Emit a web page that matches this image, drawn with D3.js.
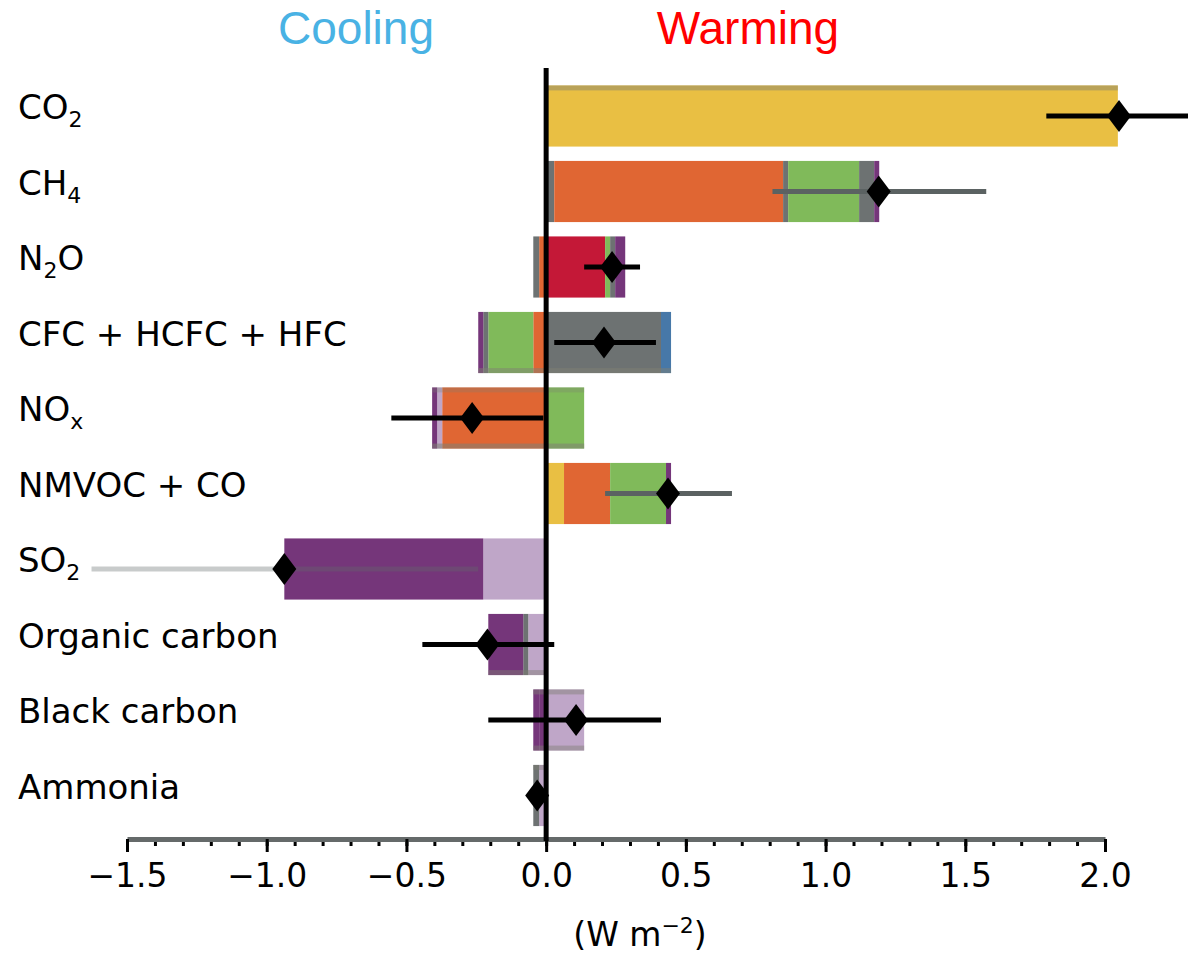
<!DOCTYPE html>
<html>
<head>
<meta charset="utf-8">
<script src="https://cdn.jsdelivr.net/npm/d3@7"></script>
<style>
  body { margin: 0; background: #fff; }
  svg { display: block; }
</style>
</head>
<body>
<div id="vis"></div>
<script>
// frame
const FRAME_WIDTH = 1188;
const FRAME_HEIGHT = 953;

// rows, top to bottom ("_" marks the next char as subscript)
const categories = ["CO_2", "CH_4", "N_2O", "CFC + HCFC + HFC", "NO_x",
                    "NMVOC + CO", "SO_2", "Organic carbon", "Black carbon", "Ammonia"];

// forcing components and their colours
const components = ["CO2", "CH4", "N2O", "Halocarbons", "O3", "H2O strat", "Aerosol-cloud", "Aerosol-radiation"];
const componentColors = ["#e9bf43", "#80ba5a", "#c41837", "#6d7272", "#e06633", "#4778a8", "#75367a", "#bfa6c8"];

// stacked pieces going right from zero, [component, size] (W m-2)
const positiveParts = [
  [["CO2", 2.046]],
  [["Halocarbons", 0.029], ["O3", 0.819], ["Halocarbons", 0.018], ["CH4", 0.254], ["Halocarbons", 0.054], ["Aerosol-cloud", 0.018]],
  [["N2O", 0.211], ["CH4", 0.018], ["Halocarbons", 0.018], ["Aerosol-cloud", 0.036]],
  [["Halocarbons", 0.411], ["H2O strat", 0.036]],
  [["CH4", 0.136]],
  [["CO2", 0.064], ["O3", 0.165], ["CH4", 0.200], ["Aerosol-cloud", 0.018]],
  [],
  [],
  [["Aerosol-radiation", 0.136]],
  []
];

// stacked pieces going left from zero, [component, size]
const negativeParts = [
  [],
  [],
  [["O3", 0.025], ["Halocarbons", 0.021]],
  [["O3", 0.046], ["CH4", 0.161], ["Halocarbons", 0.018], ["Aerosol-cloud", 0.018]],
  [["O3", 0.372], ["Aerosol-radiation", 0.018], ["Aerosol-cloud", 0.018]],
  [],
  [["Aerosol-radiation", 0.225], ["Aerosol-cloud", 0.712]],
  [["Aerosol-radiation", 0.064], ["Halocarbons", 0.018], ["Aerosol-cloud", 0.125]],
  [["Aerosol-cloud", 0.025], ["Aerosol-cloud", 0.021]],
  [["Aerosol-radiation", 0.025], ["Halocarbons", 0.021]]
];

// net effect (diamond) and its range (whisker)
const netValues = [2.05, 1.19, 0.236, 0.207, -0.265, 0.436, -0.937, -0.21, 0.107, -0.032];
const rangeLow  = [1.79, 0.81, 0.136, 0.029, -0.554, 0.211, -1.627, -0.443, -0.207, -0.04];
const rangeHigh = [2.32, 1.575, 0.336, 0.393, -0.01, 0.665, -0.243, 0.029, 0.411, -0.025];

// axis ticks
const majorTicks = [-1.5, -1.0, -0.5, 0.0, 0.5, 1.0, 1.5, 2.0];
const minorTicks = d3.range(-15, 21).map((d) => d / 10);

// whisker look per row
const whiskerColor = ["#000", "#5b6262", "#000", "#000", "#000", "#5b6262", "#61696a", "#000", "#000", "#000"];
const whiskerOpacity = [1, 1, 1, 1, 1, 1, 0.35, 1, 1, 0];

// thin grey edges along some bars [top, bottom] opacity
const edgeOpacity = [[0.45, 0], [0, 0], [0, 0], [0, 0.5], [0.3, 0.55], [0, 0], [0, 0], [0, 0.45], [0.45, 0.45], [0.45, 0]];

const colorOf = d3.scaleOrdinal().domain(components).range(componentColors);

const FRAME = d3.select("#vis")
                .append("svg")
                  .attr("width", FRAME_WIDTH)
                  .attr("height", FRAME_HEIGHT);

const X_SCALE = d3.scaleLinear()
                  .domain([-1.5, 2.0])
                  .range([127, 1105]);

const Y_SCALE = d3.scaleBand()
                  .domain(categories)
                  .range([78.25, 833.25])
                  .paddingInner(0.19)
                  .paddingOuter(0.095);

// flatten stacked pieces into rectangles
const pieces = [];
categories.forEach((cat, i) => {
  let acc = 0;
  positiveParts[i].forEach(([comp, v]) => {
    pieces.push({cat: cat, comp: comp, x0: acc, x1: acc + v});
    acc += v;
  });
  acc = 0;
  negativeParts[i].forEach(([comp, v]) => {
    pieces.push({cat: cat, comp: comp, x0: acc - v, x1: acc});
    acc -= v;
  });
});

FRAME.append("g")
  .selectAll("rect")
  .data(pieces)
  .enter()
  .append("rect")
    .attr("x", (d) => X_SCALE(d.x0))
    .attr("width", (d) => X_SCALE(d.x1) - X_SCALE(d.x0))
    .attr("y", (d) => Y_SCALE(d.cat))
    .attr("height", Y_SCALE.bandwidth())
    .attr("fill", (d) => colorOf(d.comp));

// grey edge strips
const edges = [];
categories.forEach((cat, i) => {
  const lo = -d3.sum(negativeParts[i], (p) => p[1]);
  const hi = d3.sum(positiveParts[i], (p) => p[1]);
  if (edgeOpacity[i][0] > 0) edges.push({cat: cat, lo: lo, hi: hi, top: true, op: edgeOpacity[i][0]});
  if (edgeOpacity[i][1] > 0) edges.push({cat: cat, lo: lo, hi: hi, top: false, op: edgeOpacity[i][1]});
});

FRAME.append("g")
  .selectAll("rect")
  .data(edges)
  .enter()
  .append("rect")
    .attr("x", (d) => X_SCALE(d.lo))
    .attr("width", (d) => X_SCALE(d.hi) - X_SCALE(d.lo))
    .attr("y", (d) => d.top ? Y_SCALE(d.cat) : Y_SCALE(d.cat) + Y_SCALE.bandwidth() - 5)
    .attr("height", 5)
    .attr("fill", "#7f7f74")
    .attr("opacity", (d) => d.op);

// x axis: minor ticks, then major ticks with labels
const axisY = 839;

FRAME.append("g")
  .attr("transform", "translate(0," + axisY + ")")
  .call(d3.axisBottom(X_SCALE).tickValues(minorTicks).tickSize(7).tickFormat(""))
  .call((g) => g.select(".domain").remove())
  .call((g) => g.selectAll(".tick line").attr("stroke", "#000").attr("stroke-width", 3));

FRAME.append("g")
  .attr("transform", "translate(0," + axisY + ")")
  .call(d3.axisBottom(X_SCALE).tickValues(majorTicks).tickSize(13).tickSizeOuter(0).tickPadding(12)
          .tickFormat(d3.format(".1f")))
  .call((g) => g.select(".domain").attr("stroke", "#656a6a").attr("stroke-width", 5))
  .call((g) => g.selectAll(".tick line").attr("stroke", "#000").attr("stroke-width", 3))
  .call((g) => g.selectAll(".tick text")
                .attr("font-family", "DejaVu Sans")
                .attr("font-size", 33)
                .attr("fill", "#000"));

// zero line
FRAME.append("line")
  .attr("x1", X_SCALE(0)).attr("x2", X_SCALE(0))
  .attr("y1", 68).attr("y2", axisY + 2)
  .attr("stroke", "#000")
  .attr("stroke-width", 5);

// whiskers
FRAME.append("g")
  .selectAll("line")
  .data(categories)
  .enter()
  .append("line")
    .attr("x1", (d, i) => X_SCALE(rangeLow[i]))
    .attr("x2", (d, i) => X_SCALE(rangeHigh[i]))
    .attr("y1", (d) => Y_SCALE(d) + Y_SCALE.bandwidth() / 2)
    .attr("y2", (d) => Y_SCALE(d) + Y_SCALE.bandwidth() / 2)
    .attr("stroke", (d, i) => whiskerColor[i])
    .attr("stroke-opacity", (d, i) => whiskerOpacity[i])
    .attr("stroke-width", 5);

// net diamonds
FRAME.append("g")
  .selectAll("path")
  .data(categories)
  .enter()
  .append("path")
    .attr("transform", (d, i) => "translate(" + X_SCALE(netValues[i]) + "," + (Y_SCALE(d) + Y_SCALE.bandwidth() / 2) + ")")
    .attr("d", "M0,-16 L12,0 L0,16 L-12,0 Z")
    .attr("fill", "#000");

// row labels with subscripts
const labels = FRAME.append("g")
  .selectAll("text")
  .data(categories)
  .enter()
  .append("text")
    .attr("x", 18)
    .attr("y", (d) => Y_SCALE(d) + Y_SCALE.bandwidth() / 2 + 11)
    .attr("font-family", "DejaVu Sans")
    .attr("font-size", 34)
    .attr("fill", "#000");

labels.each(function(d) {
  const parts = d.split(/(_.)/).filter((s) => s.length > 0);
  const t = d3.select(this);
  parts.forEach((p) => {
    if (p[0] === "_") {
      t.append("tspan").text(p[1]).attr("font-size", 22).attr("dy", 8);
    } else {
      t.append("tspan").text(p).attr("dy", t.selectAll("tspan").size() > 0 ? -8 : 0);
    }
  });
});

// axis title
const unit = FRAME.append("text")
  .attr("x", 640)
  .attr("y", 946)
  .attr("text-anchor", "middle")
  .attr("font-family", "DejaVu Sans")
  .attr("font-size", 33)
  .attr("fill", "#000");
unit.append("tspan").text("(W m");
unit.append("tspan").text("\u22122").attr("font-size", 22).attr("dy", -13);
unit.append("tspan").text(")").attr("dy", 13);

// header words
FRAME.append("text")
  .attr("x", 356).attr("y", 44)
  .attr("text-anchor", "middle")
  .attr("font-family", "Liberation Sans")
  .attr("font-size", 46)
  .attr("fill", "#49b2e4")
  .text("Cooling");

FRAME.append("text")
  .attr("x", 748).attr("y", 44)
  .attr("text-anchor", "middle")
  .attr("font-family", "Liberation Sans")
  .attr("font-size", 46)
  .attr("fill", "#ff0000")
  .text("Warming");
</script>
</body>
</html>
